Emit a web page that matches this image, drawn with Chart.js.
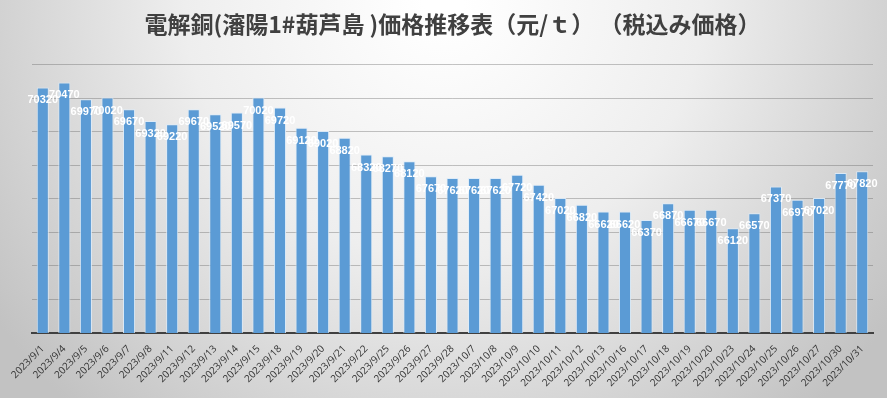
<!DOCTYPE html>
<html>
<head>
<meta charset="utf-8">
<script src="https://cdn.jsdelivr.net/npm/chart.js@4"></script>
<style>
  html, body { margin:0; padding:0; }
  #wrap { width:887px; height:398px; }
</style>
</head>
<body>
<div id="wrap"><canvas id="c" width="887" height="398"></canvas></div>
<script>
(function(){
  const titleText = '電解銅(瀋陽1#葫芦島 )価格推移表（元/ｔ） （税込み価格）';
  const dates = ['2023/9/1','2023/9/4','2023/9/5','2023/9/6','2023/9/7','2023/9/8','2023/9/11','2023/9/12','2023/9/13','2023/9/14',
    '2023/9/15','2023/9/18','2023/9/19','2023/9/20','2023/9/21','2023/9/22','2023/9/25','2023/9/26','2023/9/27','2023/9/28',
    '2023/10/7','2023/10/8','2023/10/9','2023/10/10','2023/10/11','2023/10/12','2023/10/13','2023/10/16','2023/10/17','2023/10/18',
    '2023/10/19','2023/10/20','2023/10/23','2023/10/24','2023/10/25','2023/10/26','2023/10/27','2023/10/30','2023/10/31'];
  const prices = [70320,70470,69970,70020,69670,69320,69220,69670,69520,69570,
    70020,69720,69120,69020,68820,68320,68270,68120,67670,67620,
    67620,67620,67720,67420,67020,66820,66620,66620,66370,66870,
    66670,66670,66120,66570,67370,66970,67020,67770,67820];
  const yMin = 63000, yMax = 71000, yStep = 1000;

  // gray radial background like the excel chart style
  const bgPlugin = {
    id: 'bg',
    beforeDraw(chart){
      const ctx = chart.ctx, w = chart.width, h = chart.height;
      ctx.save();
      const g = ctx.createRadialGradient(w*0.5, 0, 20, w*0.5, 0, w*0.62);
      g.addColorStop(0, '#ffffff');
      g.addColorStop(0.45, '#eeeeee');
      g.addColorStop(1, '#c2c2c2');
      ctx.fillStyle = g;
      ctx.fillRect(0, 0, w, h);
      ctx.restore();
    }
  };

  // white value labels just under the bar tops
  const labelPlugin = {
    id: 'vals',
    afterDatasetsDraw(chart){
      const ctx = chart.ctx;
      const meta = chart.getDatasetMeta(0);
      ctx.save();
      ctx.font = 'bold 11px "Liberation Sans", Arial, sans-serif';
      ctx.fillStyle = '#ffffff';
      ctx.textAlign = 'center';
      ctx.textBaseline = 'middle';
      meta.data.forEach((bar, i) => {
        ctx.fillText(String(prices[i]), bar.x, bar.y + 13);
      });
      ctx.restore();
    }
  };

  new Chart(document.getElementById('c').getContext('2d'), {
    type: 'bar',
    data: {
      labels: dates,
      datasets: [{
        data: prices,
        backgroundColor: '#5b9bd5',
        borderColor: 'rgba(220,235,250,0.9)',
        borderWidth: 1,
        barPercentage: 0.56,
        categoryPercentage: 1
      }]
    },
    options: {
      responsive: false,
      animation: false,
      layout: { padding: { left: 32, right: 14, top: 0, bottom: 7 } },
      plugins: {
        legend: { display: false },
        tooltip: { enabled: false },
        title: {
          display: true,
          text: titleText,
          color: '#404040',
          font: { family: '"Noto Sans CJK JP", sans-serif', size: 23, weight: 'bold' },
          padding: { top: 10, bottom: 27 }
        }
      },
      scales: {
        x: {
          grid: { display: false },
          border: { display: true, color: '#404040', width: 2 },
          ticks: {
            color: '#333333',
            font: { family: '"Open Sans", sans-serif', size: 10 },
            minRotation: 45, maxRotation: 45, autoSkip: false, padding: 2
          }
        },
        y: {
          min: yMin, max: yMax,
          ticks: { stepSize: yStep, display: false },
          border: { display: false },
          grid: { color: 'rgba(90,90,90,0.35)', lineWidth: 1, drawTicks: false }
        }
      }
    },
    plugins: [bgPlugin, labelPlugin]
  });
})();
</script>
</body>
</html>
